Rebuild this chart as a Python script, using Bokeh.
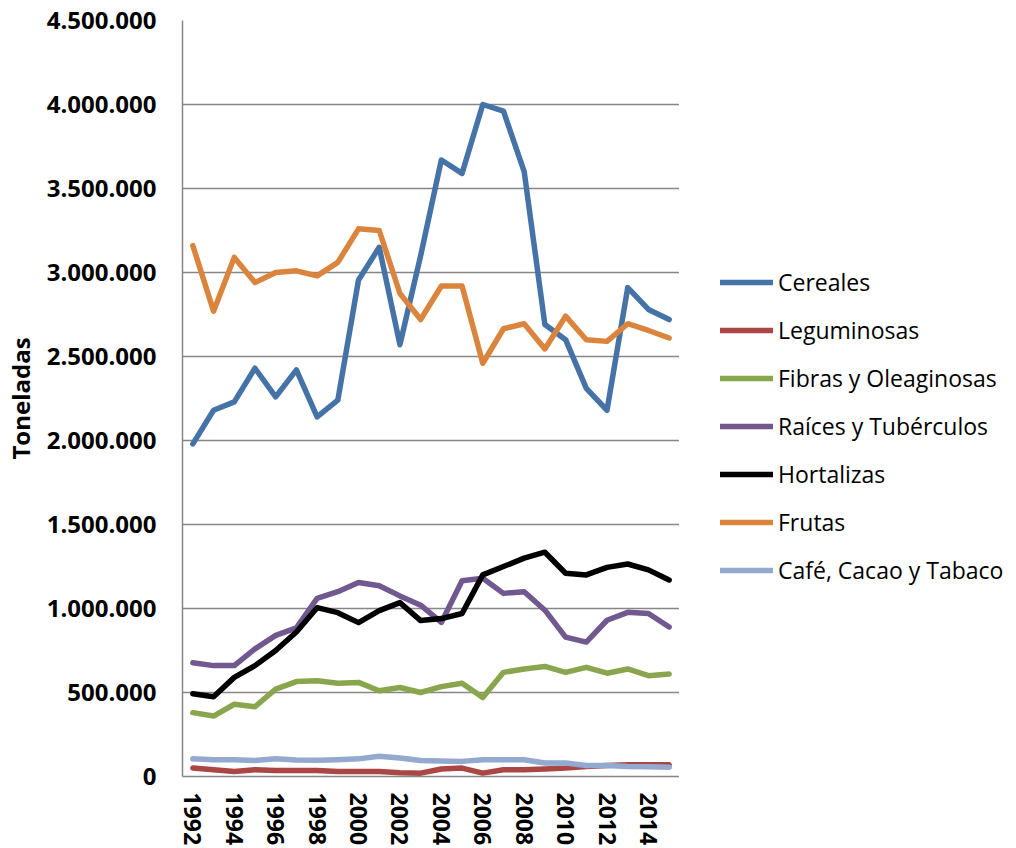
import math
from bokeh.plotting import figure
from bokeh.layouts import row
from bokeh.models import Legend, LegendItem, FixedTicker, Range1d
from bokeh.embed import file_html
from bokeh.resources import INLINE

years = list(range(1992, 2016))
cereales = [1980000, 2180000, 2230000, 2430000, 2260000, 2420000, 2140000, 2240000, 2955000, 3150000,
            2570000, 3100000, 3670000, 3590000, 4000000, 3960000, 3600000, 2690000, 2600000, 2310000,
            2180000, 2910000, 2780000, 2720000]
leguminosas = [50000, 40000, 30000, 40000, 35000, 35000, 35000, 30000, 30000, 30000,
               22000, 20000, 45000, 50000, 20000, 40000, 40000, 45000, 50000, 60000,
               65000, 70000, 70000, 70000]
fibras = [380000, 360000, 430000, 415000, 520000, 565000, 570000, 555000, 560000, 510000,
          530000, 500000, 535000, 555000, 470000, 620000, 640000, 655000, 620000, 650000,
          615000, 640000, 600000, 610000]
raices = [677000, 660000, 660000, 760000, 840000, 885000, 1060000, 1100000, 1155000, 1135000,
          1075000, 1020000, 917000, 1165000, 1180000, 1090000, 1100000, 990000, 830000, 800000,
          930000, 977000, 970000, 890000]
hortalizas = [493000, 475000, 590000, 660000, 750000, 860000, 1005000, 975000, 916000, 987000,
              1035000, 928000, 940000, 970000, 1200000, 1250000, 1300000, 1335000, 1210000, 1200000,
              1245000, 1265000, 1230000, 1170000]
frutas = [3160000, 2770000, 3090000, 2940000, 3000000, 3010000, 2980000, 3060000, 3260000, 3250000,
          2875000, 2720000, 2920000, 2920000, 2460000, 2665000, 2695000, 2545000, 2740000, 2600000,
          2590000, 2695000, 2655000, 2610000]
cafe = [105000, 100000, 100000, 95000, 105000, 98000, 97000, 100000, 105000, 120000,
        110000, 95000, 93000, 90000, 100000, 100000, 100000, 80000, 80000, 65000,
        65000, 60000, 58000, 55000]

series_names = ["Cereales", "Leguminosas", "Fibras y Oleaginosas", "Raíces y Tubérculos",
                "Hortalizas", "Frutas", "Café, Cacao y Tabaco"]
series_values = [cereales, leguminosas, fibras, raices, hortalizas, frutas, cafe]
series_colors = ["#4572A7", "#AA4643", "#89A54E", "#71588F", "#000000", "#DB843D", "#93A9CF"]

y_ticks = [0, 500000, 1000000, 1500000, 2000000, 2500000, 3000000, 3500000, 4000000, 4500000]
y_tick_labels = ["0", "500.000", "1.000.000", "1.500.000", "2.000.000", "2.500.000",
                 "3.000.000", "3.500.000", "4.000.000", "4.500.000"]
x_ticks = list(range(1992, 2016, 2))

FONT = "Open Sans"
LW = 5.5

p = figure(frame_width=497, frame_height=756, output_backend="svg", toolbar_location=None,
           x_range=Range1d(1991.5, 2015.5), y_range=Range1d(0, 4500000),
           min_border_left=182, min_border_right=0, min_border_top=20, min_border_bottom=72)
p.outline_line_color = None
p.background_fill_color = "white"
p.border_fill_color = "white"

for name, vals, col in zip(series_names, series_values, series_colors):
    p.line(years, vals, line_color=col, line_width=LW, line_join="round", line_cap="round")

p.xgrid.grid_line_color = None
p.ygrid.ticker = FixedTicker(ticks=y_ticks)
p.ygrid.grid_line_color = "#868686"
p.ygrid.grid_line_width = 1.5

p.yaxis.ticker = FixedTicker(ticks=y_ticks)
p.yaxis.major_label_overrides = dict(zip(y_ticks, y_tick_labels))
p.yaxis.axis_line_color = "#868686"
p.yaxis.axis_line_width = 1.5
p.yaxis.major_tick_line_color = None
p.yaxis.minor_tick_line_color = None
p.yaxis.major_tick_out = 0
p.yaxis.major_tick_in = 0
p.yaxis.minor_tick_out = 0
p.yaxis.major_label_text_font = FONT
p.yaxis.major_label_text_font_style = "bold"
p.yaxis.major_label_text_font_size = "24px"
p.yaxis.major_label_text_color = "black"
p.yaxis.major_label_standoff = 26
p.yaxis.axis_label = "Toneladas"
p.yaxis.axis_label_text_font = FONT
p.yaxis.axis_label_text_font_style = "bold"
p.yaxis.axis_label_text_font_size = "24px"
p.yaxis.axis_label_text_color = "black"
p.yaxis.axis_label_standoff = 7

p.xaxis.ticker = FixedTicker(ticks=x_ticks)
p.xaxis.axis_line_color = "#868686"
p.xaxis.axis_line_width = 1.5
p.xaxis.major_tick_line_color = None
p.xaxis.minor_tick_line_color = None
p.xaxis.major_tick_out = 0
p.xaxis.major_tick_in = 0
p.xaxis.minor_tick_out = 0
p.xaxis.major_label_orientation = -math.pi / 2
p.xaxis.major_label_text_font = FONT
p.xaxis.major_label_text_font_style = "bold"
p.xaxis.major_label_text_font_size = "23px"
p.xaxis.major_label_text_color = "black"
p.xaxis.major_label_standoff = 16

# legend panel (separate figure so the legend is not clipped by the plot frame)
lg = figure(width=329, height=848, output_backend="svg", toolbar_location=None,
            x_range=Range1d(0, 1), y_range=Range1d(0, 1),
            min_border_left=0, min_border_right=0, min_border_top=20, min_border_bottom=72)
lg.axis.visible = False
lg.grid.visible = False
lg.outline_line_color = None
items = []
for name, vals, col in zip(series_names, series_values, series_colors):
    # same series, out of this panel's view: only used for its legend swatch
    r = lg.line(years, vals, line_color=col, line_width=LW, line_cap="round")
    items.append(LegendItem(label=name, renderers=[r]))

legend = Legend(items=items, location=(41, 190), orientation="vertical")
legend.glyph_width = 53
legend.glyph_height = 32
legend.label_height = 32
legend.spacing = 16
legend.padding = 0
legend.margin = 0
legend.label_standoff = 5
legend.label_text_font = FONT
legend.label_text_font_size = "23px"
legend.label_text_color = "black"
legend.border_line_color = None
legend.background_fill_alpha = 0
lg.add_layout(legend, "center")

layout = row(p, lg, spacing=0)
open("out.html", "w").write(file_html(layout, INLINE))
